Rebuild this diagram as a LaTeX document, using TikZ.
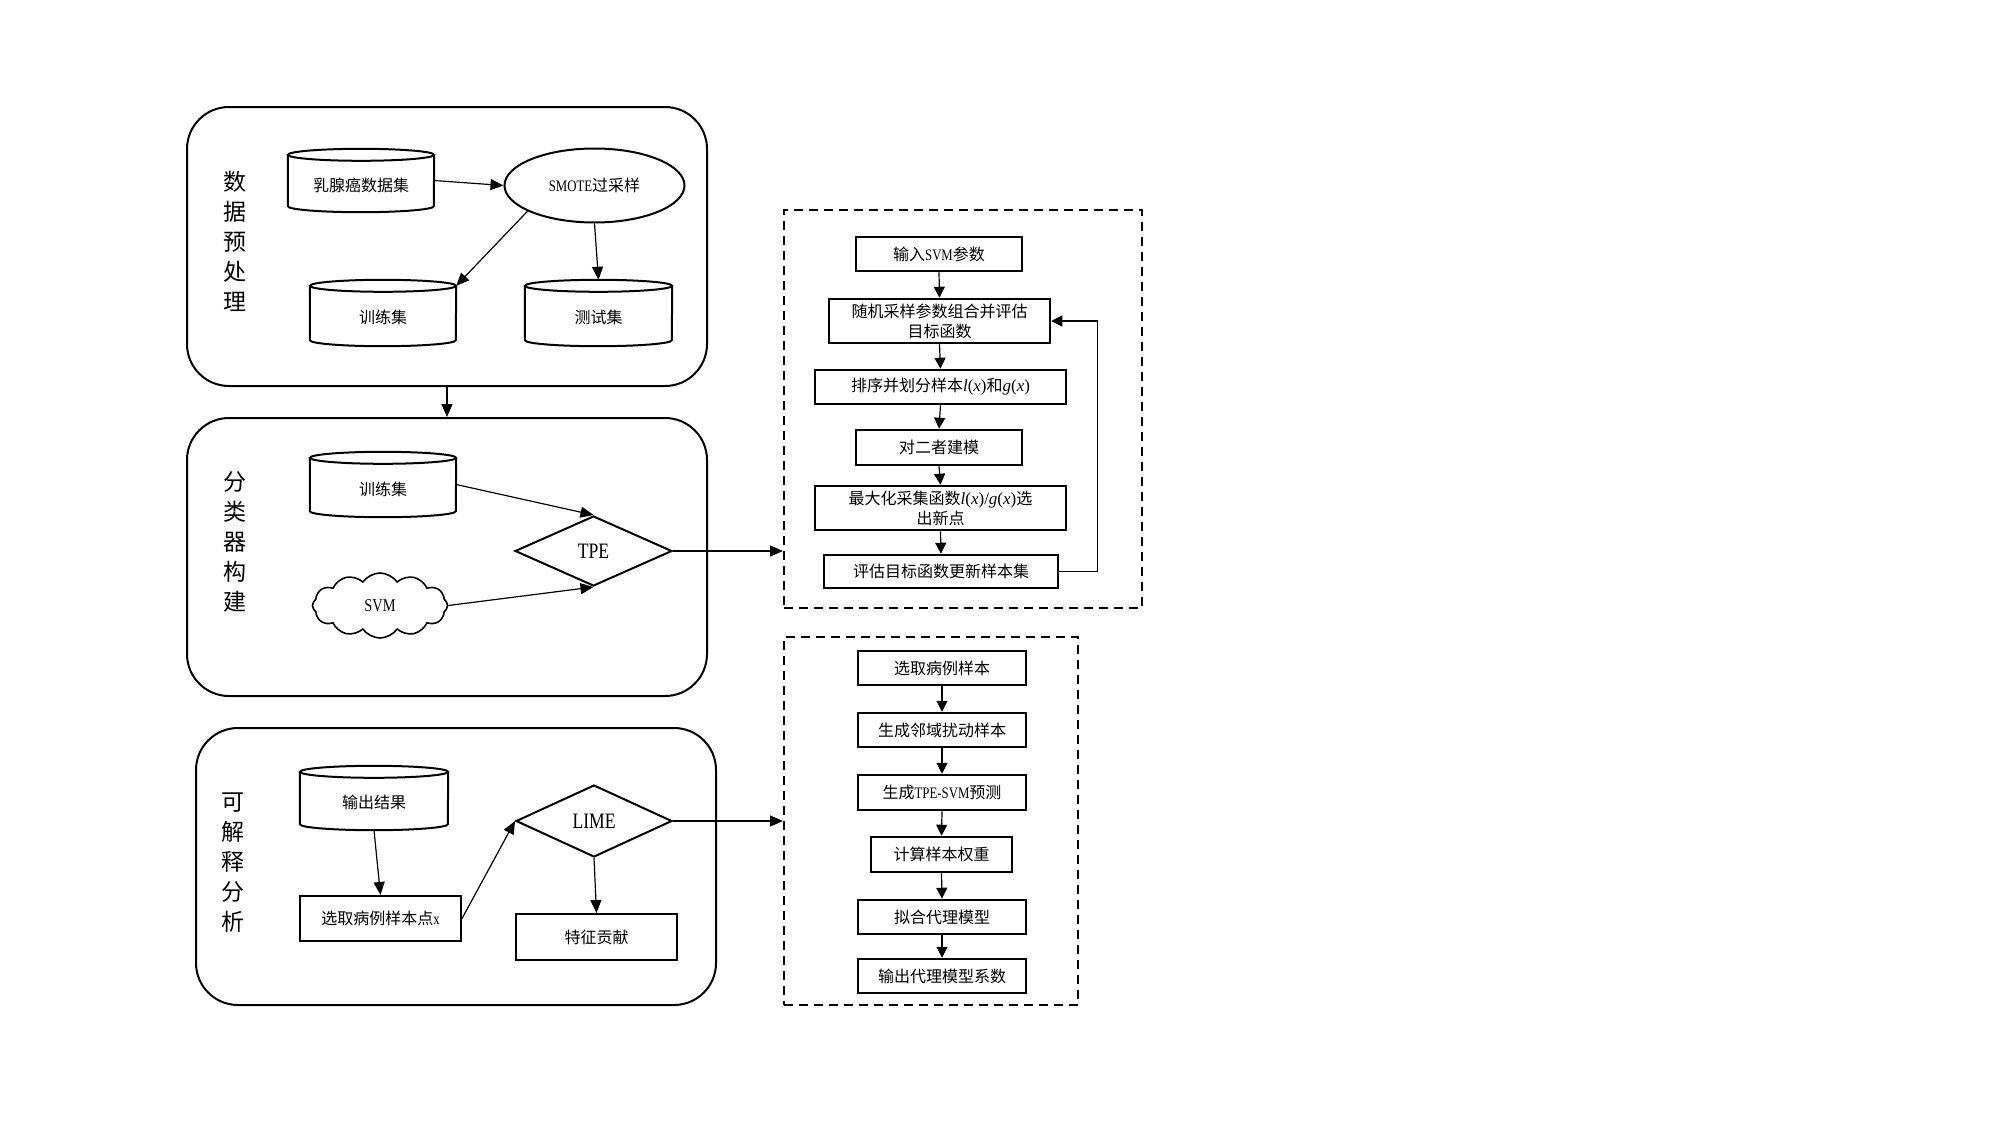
\documentclass[tikz,border=0pt]{standalone}
\usepackage{fontspec}
\setmainfont{Noto Sans CJK SC}
\newfontfamily\lt[FakeStretch=0.8]{Liberation Serif}
\newfontfamily\mf{Liberation Serif}
\usetikzlibrary{shapes.geometric,shapes.symbols,arrows.meta,calc}
\tikzset{
  panel/.style={draw, line width=2pt, rounded corners=42pt, inner sep=0},
  dbox/.style={draw, line width=2pt, dash pattern=on 9pt off 6pt, inner sep=0},
  pbox/.style={draw, line width=2.5pt, inner sep=0, align=center, font=\fontsize{16}{20}\selectfont},
  cylnode/.style={inner sep=0, font=\fontsize{16}{20}\selectfont, text height=24pt, text depth=3pt},
  cylline/.style={line width=2pt},
  side/.style={align=center, font=\fontsize{23}{30}\selectfont, inner sep=0},
  arr/.style={line width=1.2pt, -{Triangle[length=13pt,width=11pt]}},
  sarr/.style={line width=1.2pt, -{Triangle[length=11pt,width=11pt]}},
  dia/.style={diamond, draw, line width=2pt, inner sep=0},
}
\newcommand\fx[1]{{\mf\fontsize{17}{20}\selectfont\itshape #1\/\upshape(\itshape x\/\upshape)}}
\newcommand\cylshape[2]{%
  \draw[cylline] ($(#1.north west)+(0,6)$) -- ($(#1.south west)+(0,-6)$)
    arc[start angle=180, end angle=0, x radius=#2, y radius=6]
    -- ($(#1.north east)+(0,6)$);
  \draw[cylline] ($(#1.north)+(0,6)$) ellipse [x radius=#2, y radius=6];
}
\begin{document}
\begin{tikzpicture}[x=1pt, y=-1pt]
\useasboundingbox (0,0) rectangle (1999,1124);

% ---------- panels ----------
\node[panel, minimum width=520, minimum height=279] (P1) at (447,246.5) {};
\node[panel, minimum width=520, minimum height=278] (P2) at (447,557) {};
\node[panel, minimum width=520, minimum height=277] (P3) at (456,866.5) {};

\node[side] (L1) at (235,241) {数\\据\\预\\处\\理};
\node[side] (L2) at (235,542) {分\\类\\器\\构\\建};
\node[side] (L3) at (233,862.5) {可\\解\\释\\分\\析};

% ---------- panel 1 ----------
\node[cylnode, minimum width=146, minimum height=63] (D1) at (361,180.5) {乳腺癌数据集};
\cylshape{D1}{73}
\node[draw, ellipse, line width=2pt, minimum width=180, minimum height=74, inner sep=0,
      font=\fontsize{16}{20}\selectfont] (SM) at (594.5,185.5) {{\lt SMOTE}过采样};
\node[cylnode, minimum width=146, minimum height=66] (T1) at (383,313) {训练集};
\cylshape{T1}{73}
\node[cylnode, minimum width=147, minimum height=66] (T2) at (598.5,313) {测试集};
\cylshape{T2}{73.5}

\draw[arr] (D1.east) -- (SM.west);
\draw[arr] (SM.201) -- ($(T1.north east)+(0,6)$);
\draw[arr] (SM.south) -- (T2.north);
\draw[arr] (P1.south) -- (P2.north);

% ---------- panel 2 ----------
\node[cylnode, minimum width=146, minimum height=65] (T3) at (383,484.5) {训练集};
\cylshape{T3}{73}
\node[dia, minimum width=157, minimum height=70, font=\lt\fontsize{22}{24}\selectfont] (TPE) at (593.5,551) {TPE};
\node[cloud, draw, line width=1.6pt, cloud puffs=12, cloud puff arc=110, cloud ignores aspect,
      minimum width=135, minimum height=65, inner sep=0, font=\lt\fontsize{18}{20}\selectfont]
      (SVM) at (380,605.5) {SVM};
\draw[arr] (T3.east) -- (TPE.north);
\draw[arr] (SVM.east) -- (TPE.south);

% ---------- panel 3 ----------
\node[cylnode, minimum width=148, minimum height=64] (O1) at (374,798) {输出结果};
\cylshape{O1}{74}
\node[pbox, line width=2pt, minimum width=161, minimum height=45] (R1) at (380.5,918.5) {选取病例样本点{\lt x}};
\node[dia, minimum width=156, minimum height=72, font=\lt\fontsize{22}{24}\selectfont] (LIME) at (594,821) {LIME};
\node[pbox, line width=2pt, minimum width=161, minimum height=46] (F1) at (596.5,937) {特征贡献};
\draw[arr] (O1.south) -- (R1.north);
\draw[arr] (R1.east) -- (LIME.west);
\draw[arr] (LIME.south) -- (F1.north);

% ---------- dashed box 1 (TPE) ----------
\node[dbox, minimum width=358, minimum height=398] (DB1) at (963,409) {};
\node[pbox, minimum width=166, minimum height=34] (B1) at (939,254) {输入{\lt SVM}参数};
\node[pbox, minimum width=221, minimum height=44] (B2) at (939.5,321) {随机采样参数组合并评估\\目标函数};
\node[pbox, minimum width=251, minimum height=34] (B3) at (940.5,387) {排序并划分样本\fx{l}和\fx{g}};
\node[pbox, minimum width=166, minimum height=35] (B4) at (939,447.5) {对二者建模};
\node[pbox, minimum width=251, minimum height=44] (B5) at (940.5,508) {最大化采集函数\fx{l}{\mf\fontsize{17}{20}\selectfont/}\fx{g}选\\出新点};
\node[pbox, minimum width=234, minimum height=33] (B6) at (941,571.5) {评估目标函数更新样本集};
\draw[sarr] (B1.south) -- (B2.north);
\draw[sarr] (B2.south) -- (B3.north);
\draw[sarr] (B3.south) -- (B4.north);
\draw[sarr] (B4.south) -- (B5.north);
\draw[sarr] (B5.south) -- (B6.north);
\draw[sarr] (B6.east) -- ++(38,0) |- (B2.east);
\draw[arr] (TPE.east) -- (TPE.east -| DB1.west);

% ---------- dashed box 2 (LIME) ----------
\node[dbox, minimum width=294, minimum height=368] (DB2) at (931,821) {};
\node[pbox, minimum width=168, minimum height=34] (C1) at (942,668) {选取病例样本};
\node[pbox, minimum width=168, minimum height=34] (C2) at (942,730) {生成邻域扰动样本};
\node[pbox, minimum width=168, minimum height=35] (C3) at (942,792.5) {生成{\lt TPE-SVM}预测};
\node[pbox, minimum width=141, minimum height=35] (C4) at (941.5,854.5) {计算样本权重};
\node[pbox, minimum width=168, minimum height=34] (C5) at (942,917) {拟合代理模型};
\node[pbox, minimum width=168, minimum height=34] (C6) at (942,976) {输出代理模型系数};
\draw[sarr] (C1.south) -- (C2.north);
\draw[sarr] (C2.south) -- (C3.north);
\draw[sarr] (C3.south) -- (C4.north);
\draw[sarr] (C4.south) -- (C5.north);
\draw[sarr] (C5.south) -- (C6.north);
\draw[arr] (LIME.east) -- (LIME.east -| DB2.west);
\end{tikzpicture}
\end{document}
